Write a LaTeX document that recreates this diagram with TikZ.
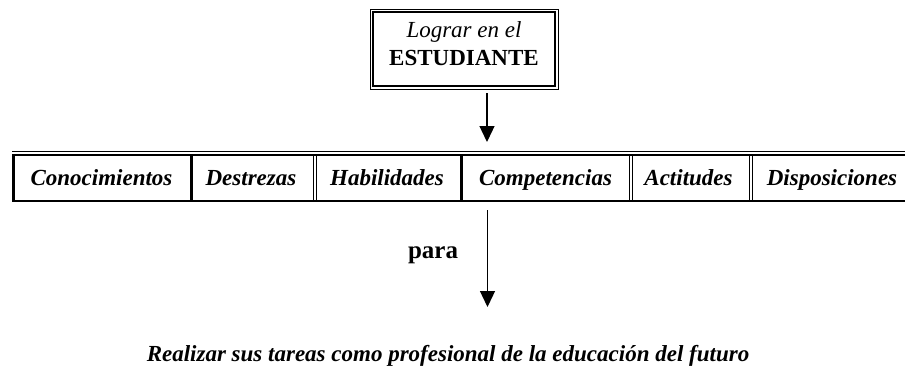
\documentclass[tikz,border=0pt]{standalone}
\usepackage{fontspec}
\setmainfont{Liberation Serif}
\usetikzlibrary{arrows.meta}
\begin{document}
\begin{tikzpicture}[x=1pt,y=-1pt,
 thinln/.style={line width=0.8pt},
 thickln/.style={line width=2.5pt},
 boxthick/.style={line width=2pt},
 arr/.style={line width=1.3pt,-{Triangle[length=16pt,width=15pt]}},
 txt/.style={anchor=base, inner sep=0pt, font=\fontsize{23}{28}\selectfont},
 cell/.style={txt, font=\fontsize{23}{28}\selectfont\bfseries\itshape},
]
\useasboundingbox (0,0) rectangle (905,372);
\clip (0,0) rectangle (905,372);
% top box
\draw[thinln] (370,9) rectangle (558,89);
\draw[boxthick] (373,12) rectangle (554.5,86);
\node[txt, font=\fontsize{23}{28}\selectfont\itshape] (t1) at (464,37) {Lograr en el};
\node[txt, font=\fontsize{23}{28}\selectfont\bfseries] (t2) at (464,65) {ESTUDIANTE};
% table
\draw[thinln] (12,151.5) -- (915,151.5);
\draw[thickln] (13.5,155) rectangle (915,201);
\draw[thickln] (191.5,155) -- (191.5,201);
\draw[thinln] (313.5,155) -- (313.5,201);
\draw[thinln] (316,155) -- (316,201);
\draw[thickln] (461.5,155) -- (461.5,201);
\draw[thinln] (629.5,155) -- (629.5,201);
\draw[thinln] (632,155) -- (632,201);
\draw[thinln] (749.5,155) -- (749.5,201);
\draw[thinln] (752,155) -- (752,201);
\node[cell] (c1) at (101.5,185) {Conocimientos};
\node[cell] (c2) at (251,185) {Destrezas};
\node[cell] (c3) at (387,185) {Habilidades};
\node[cell] (c4) at (545.5,185) {Competencias};
\node[cell] (c5) at (688.5,185) {Actitudes};
\node[cell] (c6) at (832,185) {Disposiciones};
% arrows
\coordinate (a1s) at (487,93);
\coordinate (a1e) at (487,142);
\draw[arr] (a1s) -- (a1e);
\coordinate (a2s) at (487.5,210);
\coordinate (a2e) at (487.5,307);
\draw[arr] (a2s) -- (a2e);
\node[txt, font=\fontsize{25}{30}\selectfont\bfseries] (para) at (433,258) {para};
\node[cell] (goal) at (448,361) {Realizar sus tareas como profesional de la educación del futuro};
\end{tikzpicture}
\end{document}
